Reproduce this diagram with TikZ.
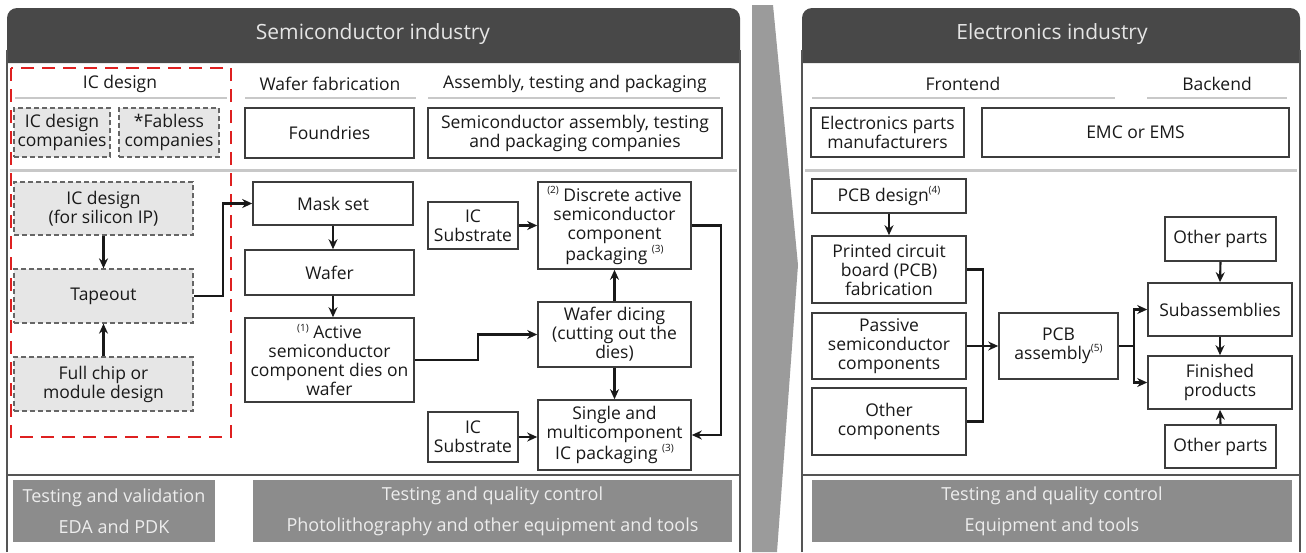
\documentclass[tikz,border=0pt]{standalone}
\usepackage{fontspec}
\setmainfont{Open Sans}
\usepackage{tikz}
\usetikzlibrary{arrows.meta,calc}
\definecolor{hdrgrey}{RGB}{72,72,72}
\definecolor{framegrey}{RGB}{85,85,85}
\definecolor{boxline}{RGB}{60,60,60}
\definecolor{sepgrey}{RGB}{200,200,200}
\definecolor{dashfill}{RGB}{230,230,230}
\definecolor{barfill}{RGB}{140,140,140}
\definecolor{chevgrey}{RGB}{155,155,155}
\definecolor{icred}{RGB}{222,32,32}
\newcommand\boxfont{\fontsize{17.5}{19}\selectfont}
\newcommand\supnote[1]{\raisebox{0.45em}{\fontsize{10}{10}\selectfont(#1)}}

\begin{document}
\begin{tikzpicture}[x=1pt, y=-1pt,
    blk/.style={draw=boxline, fill=white, line width=1.6pt, inner sep=1pt, align=center, font=\boxfont, text=black!90},
    dblk/.style={draw=black!60, fill=dashfill, line width=1.3pt, dash pattern=on 5pt off 3pt, inner sep=0pt, align=center, font=\boxfont, text=black!90},
    bar/.style={fill=barfill, inner sep=0pt, align=center, font=\fontsize{18}{31}\selectfont, text=white!93!black},
    colhead/.style={font=\boxfont, text=black!90},
    arr/.style={->, line width=2.1pt, draw=black!90},
    >={Stealth[length=10pt,width=9pt]}
]
\useasboundingbox (0,0) rectangle (1306,552);

% chevron between the two industries
\fill[chevgrey] (752,5) -- (773,5) -- (798,265) -- (777,552) -- (752,552) -- cycle;

% panel frames and headers
\fill[hdrgrey] (7,63) [rounded corners=10pt] -- (7,8) -- (740,8) [sharp corners] -- (740,63) -- cycle;
\fill[hdrgrey] (802,63) [rounded corners=10pt] -- (802,8) -- (1300,8) [sharp corners] -- (1300,63) -- cycle;
\draw[framegrey, line width=2.5pt] (7,552) -- (7,50);
\draw[framegrey, line width=2.5pt] (740,552) -- (740,50);
\draw[framegrey, line width=2.5pt] (802,552) -- (802,50);
\draw[framegrey, line width=2.5pt] (1300,552) -- (1300,50);
\node[font=\fontsize{21}{21}\selectfont, text=white!90!black] (semi) at (373,34) {Semiconductor industry};
\node[font=\fontsize{21}{21}\selectfont, text=white!90!black] (elec) at (1052,34) {Electronics industry};

% column headings
\node[colhead] (hic) at (120,84) {IC design};
\node[colhead] (hwf) at (330,84) {Wafer fabrication};
\node[colhead] (hat) at (575,84) {Assembly, testing and packaging};
\node[colhead] (hfe) at (963,84) {Frontend};
\node[colhead] (hbe) at (1217,84) {Backend};
\draw[sepgrey, line width=2pt] (15,98) -- (227,98) (245,98) -- (416,98) (428,98) -- (720,98);
\draw[sepgrey, line width=2pt] (812,98) -- (1115,98) (1147,98) -- (1287,98);
\draw[sepgrey, line width=3pt] (10,170) -- (737,170) (805,170) -- (1297,170);
\draw[framegrey, line width=2pt] (7,475) -- (740,475) (802,475) -- (1300,475);

% company rows
\node[dblk, minimum width=96pt, minimum height=49pt] (icco) at (62,132.5) {IC design\\companies};
\node[dblk, minimum width=100pt, minimum height=49pt] (fabl) at (169,132.5) {*Fabless\\companies};
\node[blk, minimum width=169pt, minimum height=50pt] (foun) at (329.5,133) {Foundries};
\node[blk, minimum width=294pt, minimum height=50pt] (satp) at (575,133) {Semiconductor assembly, testing\\and packaging companies};
\node[blk, minimum width=153pt, minimum height=49pt] (epm) at (887.5,132.5) {Electronics parts\\manufacturers};
\node[blk, minimum width=307pt, minimum height=49pt] (emc) at (1135.5,132.5) {EMC or EMS};

% IC design flow
\node[dblk, minimum width=179pt, minimum height=53pt] (icip) at (103.5,208.5) {IC design\\(for silicon IP)};
\node[dblk, minimum width=179pt, minimum height=54pt] (tape) at (103.5,296) {Tapeout};
\node[dblk, minimum width=179pt, minimum height=54pt] (full) at (103.5,384) {Full chip or\\module design};
\draw[icred, line width=2.5pt, dash pattern=on 13pt off 8pt] (11,68) rectangle (231,437);

% wafer fabrication flow
\node[blk, minimum width=160pt, minimum height=43pt] (mask) at (333,203.5) {Mask set};
\node[blk, minimum width=169pt, minimum height=45pt] (wafr) at (329.5,272.5) {Wafer};
\node[blk, minimum width=169pt, minimum height=84pt] (dies) at (329.5,360) {\supnote{1} Active\\semiconductor\\component dies on\\wafer};

% assembly and packaging flow
\node[blk, minimum width=90pt, minimum height=47pt] (sub1) at (473,225.5) {IC\\Substrate};
\node[blk, minimum width=153pt, minimum height=87pt] (disc) at (614.5,225.5) {\supnote{2} Discrete active\\semiconductor\\component\\packaging \supnote{3}};
\node[blk, minimum width=153pt, minimum height=65pt] (dice) at (614.5,334.5) {Wafer dicing\\(cutting out the\\dies)};
\node[blk, minimum width=90pt, minimum height=50pt] (sub2) at (473,437) {IC\\Substrate};
\node[blk, minimum width=153pt, minimum height=70pt] (sngl) at (614.5,435) {Single and\\multicomponent\\IC packaging \supnote{3}};

% electronics flow
\node[blk, minimum width=154pt, minimum height=34pt] (pcbd) at (889,196) {PCB design\supnote{4}};
\node[blk, minimum width=154pt, minimum height=67pt] (pcbf) at (889,269.5) {Printed circuit\\board (PCB)\\fabrication};
\node[blk, minimum width=154pt, minimum height=66pt] (pasv) at (889,346) {Passive\\semiconductor\\components};
\node[blk, minimum width=154pt, minimum height=67pt] (othc) at (889,421.5) {Other\\components};
\node[blk, minimum width=119pt, minimum height=66pt] (pcba) at (1058.5,346) {PCB\\assembly\supnote{5}};
\node[blk, minimum width=111pt, minimum height=44pt] (op1) at (1220.5,239) {Other parts};
\node[blk, minimum width=144pt, minimum height=53pt] (suba) at (1220,309.5) {Subassemblies};
\node[blk, minimum width=144pt, minimum height=53pt] (fini) at (1220,382.5) {Finished\\products};
\node[blk, minimum width=111pt, minimum height=43pt] (op2) at (1220.5,446.5) {Other parts};

% support bars
\node[bar, minimum width=202pt, minimum height=62pt] (tval) at (114,511) {Testing and validation\\EDA and PDK};
\node[bar, minimum width=479pt, minimum height=62pt] (tqc1) at (492.5,511) {Testing and quality control\\Photolithography and other equipment and tools};
\node[bar, minimum width=480pt, minimum height=62pt] (tqc2) at (1052,511) {Testing and quality control\\Equipment and tools};

% connectors
\draw[arr] (icip.south) -- (tape.north);
\draw[arr] (full.north) -- (tape.south);
\draw[arr] (tape.east) -- ++(29,0) |- (mask.west);
\draw[arr] (mask.south) -- (mask.south |- wafr.north);
\draw[arr] (mask.south |- wafr.south) -- (mask.south |- dies.north);
\draw[arr] (dies.east) -- ++(63,0) |- (dice.west);
\draw[arr] (sub1.east) -- (disc.west);
\draw[arr] (dice.north) -- (disc.south);
\draw[arr] (dice.south) -- (sngl.north);
\draw[arr] (sub2.east) -- (sub2.east -| sngl.west);
\draw[arr] (disc.east) -- ++(29,0) |- (sngl.east);

\draw[arr] (pcbd.south) -- (pcbf.north);
\draw[line width=2.1pt, black!90] (pcbf.east) -- ++(16,0) |- (othc.east);
\draw[arr] (pasv.east) -- (pcba.west);
\draw[line width=2.1pt, black!90] (pcba.east) -- ++(15,0) coordinate (br);
\draw[arr] (br) |- (suba.west);
\draw[arr] (br) |- (fini.west);
\draw[arr] (op1.south) -- (suba.north);
\draw[arr] (suba.south) -- (fini.north);
\draw[arr] (op2.north) -- (fini.south);
\end{tikzpicture}
\end{document}
